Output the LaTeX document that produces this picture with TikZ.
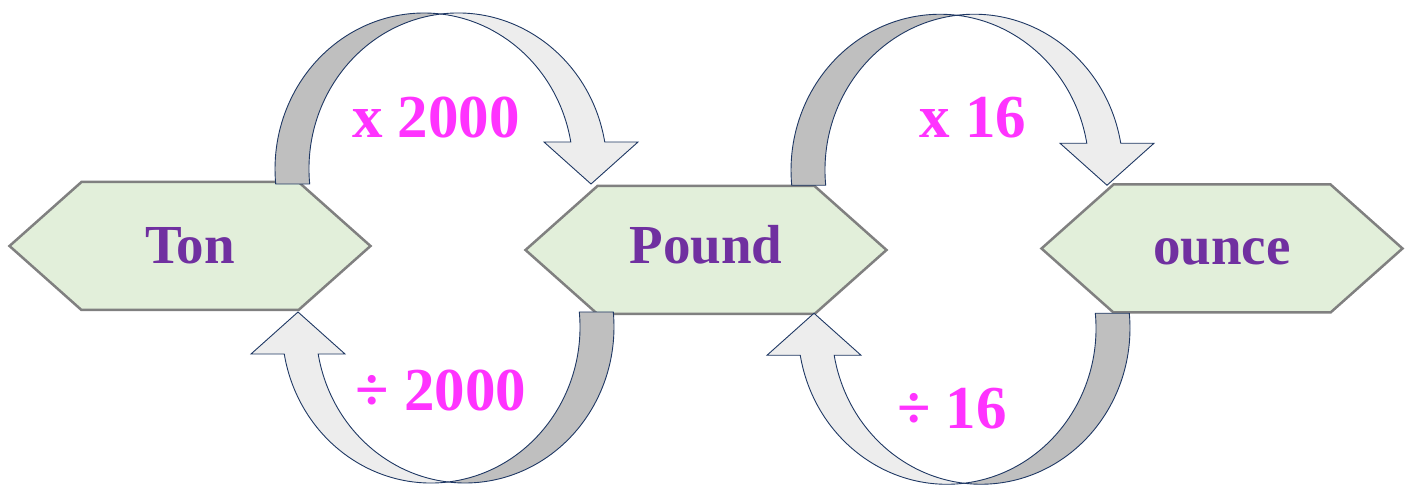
\documentclass[tikz,border=0pt]{standalone}
\usepackage{fontspec}
\setmainfont{Liberation Serif}
\usepackage{xcolor}
\usepackage{tikz}
\usetikzlibrary{calc, shapes.symbols}

\definecolor{hexfill}{HTML}{E2EFDA}
\definecolor{hexline}{HTML}{808080}
\definecolor{unitpurple}{HTML}{7030A0}
\definecolor{ratepink}{HTML}{FF33FF}
\definecolor{bandback}{HTML}{BFBFBF}
\definecolor{bandfront}{HTML}{EDEDED}
\definecolor{bandline}{HTML}{1F3864}

\tikzset{
    unitbox/.style={signal, signal to=west and east, signal pointer angle=83.3,
        draw=hexline, fill=hexfill, line width=2.5pt, inner sep=0pt, outer sep=0pt,
        minimum width=361pt, minimum height=128pt, text height=36pt, text depth=0pt,
        text=unitpurple, font=\fontsize{55}{60}\selectfont\bfseries},
    rate/.style={anchor=base, text=ratepink, font=\fontsize{61}{70}\selectfont\bfseries},
    backband/.style={fill=bandback, draw=bandline, line width=0.9pt},
    frontband/.style={fill=bandfront, draw=bandline, line width=0.9pt, line join=miter},
    turn arrow/.pic={
        \filldraw[backband] (-165.3,0)
            arc[start angle=185.52, end angle=83.45, x radius=149, y radius=156]
            arc[start angle=96.55, end angle=185.52, x radius=149, y radius=156] -- cycle;
        \filldraw[frontband] (0,170)
            arc[start angle=96.55, end angle=9.97, x radius=149, y radius=156]
            -- (197,42) -- (150,0) -- (103,42) -- (129.8,42)
            arc[start angle=9.97, end angle=83.45, x radius=149, y radius=156] -- cycle;
    }
}

\begin{document}
\begin{tikzpicture}[x=1pt, y=1pt]
    \useasboundingbox (0,0) rectangle (1408,485);

    \node[unitbox] (ton) at (190,239) {Ton};
    \node[unitbox, text depth=8pt] (pound) at (706,235) {Pound};
    \node[unitbox, text depth=4pt] (ounce) at (1222,236.5) {ounce};

    \foreach \a/\b in {ton/pound, pound/ounce} {
        \coordinate (top) at ($(\a.north)!0.5!(\b.north)+(-7,0)$);
        \coordinate (bot) at ($(\a.south)!0.5!(\b.south)$);
        \pic at (top) {turn arrow};
        \pic[rotate=180] at (bot) {turn arrow};
    }

    \node[rate] (mul2000) at (436,347) {x 2000};
    \node[rate] (div2000) at (441,75) {÷ 2000};
    \node[rate] (mul16) at (973,347) {x 16};
    \node[rate] (div16) at (952,57) {÷ 16};
\end{tikzpicture}
\end{document}
